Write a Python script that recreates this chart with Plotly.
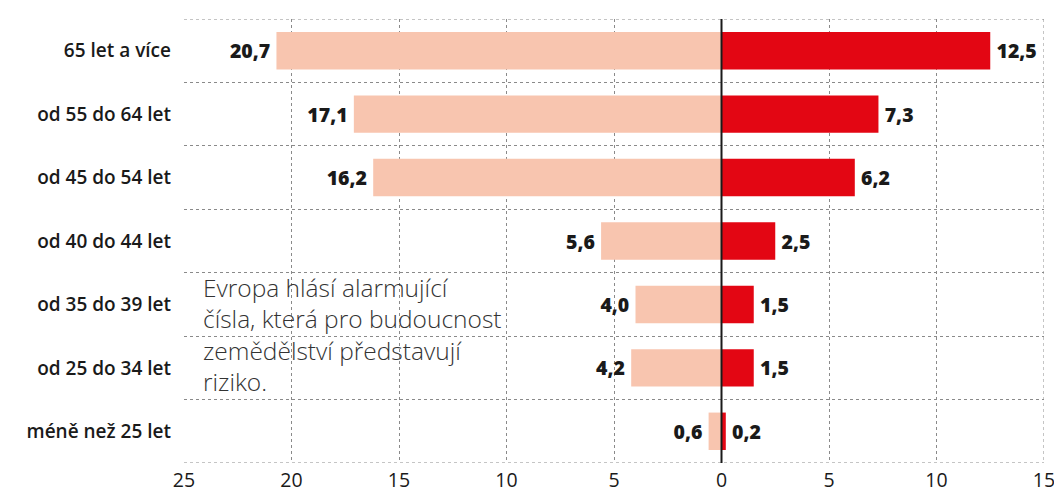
import plotly.graph_objects as go

categories = ["65 let a více", "od 55 do 64 let", "od 45 do 54 let", "od 40 do 44 let",
              "od 35 do 39 let", "od 25 do 34 let", "méně než 25 let"]
left_values = [20.7, 17.1, 16.2, 5.6, 4.0, 4.2, 0.6]
right_values = [12.5, 7.3, 6.2, 2.5, 1.5, 1.5, 0.2]
x_tickvals = [-25, -20, -15, -10, -5, 0, 5, 10, 15]
x_ticktext = ["25", "20", "15", "10", "5", "0", "5", "10", "15"]
note_lines = ["Evropa hlásí alarmující", "čísla, která pro budoucnost",
              "zemědělství představují", "riziko."]

def fmt(v):
    return f"{v:.1f}".replace(".", ",")

ypos = list(range(len(categories)))
font_family = "Open Sans"
grid_col = "#8a8a8a"
pad = "\u2009"

fig = go.Figure()
fig.add_trace(go.Bar(
    y=ypos, x=[-v for v in left_values], orientation="h",
    marker=dict(color="#F8C5AF", line=dict(width=0)),
    text=[fmt(v) + pad for v in left_values], textposition="outside",
    textfont=dict(family=font_family, size=19.5, color="#1a1a1a", weight=800),
    cliponaxis=False, hoverinfo="skip", width=0.59,
))
fig.add_trace(go.Bar(
    y=ypos, x=right_values, orientation="h",
    marker=dict(color="#E30613", line=dict(width=0)),
    text=[pad + fmt(v) for v in right_values], textposition="outside",
    textfont=dict(family=font_family, size=19.5, color="#1a1a1a", weight=800),
    cliponaxis=False, hoverinfo="skip", width=0.59,
))

for i, line in enumerate(note_lines):
    fig.add_annotation(
        x=-24.2, y=3.73 + 0.495 * i, xref="x", yref="y", text=line,
        showarrow=False, xanchor="left", yanchor="middle",
        font=dict(family=font_family, size=24.5, color="#333333", weight=300),
    )

for yv in (-0.5, 6.5):
    fig.add_shape(type="line", x0=-25, x1=15, y0=yv, y1=yv, xref="x", yref="y",
                  line=dict(color=grid_col, width=1, dash="dot"), layer="below")
fig.add_shape(type="line", x0=15, x1=15, y0=-0.5, y1=6.5, xref="x", yref="y",
              line=dict(color=grid_col, width=1, dash="dot"), layer="below")
fig.add_shape(type="line", x0=0, x1=0, y0=-0.5, y1=6.5, xref="x", yref="y",
              line=dict(color="#1a1a1a", width=2))

fig.update_layout(
    width=1054, height=493,
    margin=dict(l=184, r=10, t=19, b=30),
    paper_bgcolor="white", plot_bgcolor="white",
    barmode="overlay", showlegend=False,
    xaxis=dict(
        range=[-25.0001, 15.0001], tickvals=x_tickvals, ticktext=x_ticktext,
        showgrid=True, gridcolor=grid_col, griddash="dot", gridwidth=1,
        zeroline=False, showline=False, ticks="", ticklabelstandoff=3,
        automargin=False, ticklabeloverflow="allow",
        tickfont=dict(family=font_family, size=19.5, color="#1a1a1a"),
    ),
    yaxis=dict(
        range=[6.5, -0.5], tickvals=ypos, ticktext=categories,
        showgrid=False, zeroline=False, showline=False, ticks="",
        ticklabelstandoff=12, automargin=False,
        tickfont=dict(family=font_family, size=19, color="#1a1a1a", weight=600),
        minor=dict(tickvals=[i - 0.5 for i in range(len(categories) + 1)],
                   showgrid=True, gridcolor=grid_col, griddash="dot", gridwidth=1,
                   ticks=""),
    ),
)

fig.write_html("out.html")
